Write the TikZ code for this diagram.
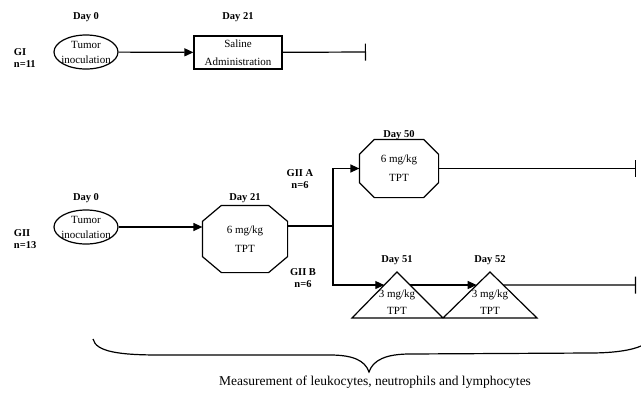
\documentclass[tikz,border=0pt]{standalone}
\usepackage{fontspec}
\setmainfont{Liberation Serif}
\usetikzlibrary{shapes.geometric,arrows.meta,calc}

% octagon round a node: node name, horizontal cut, vertical cut
\newcommand{\drawoct}[3]{%
  \draw ($(#1.north west)+(#2,0)$) -- ($(#1.north east)+(-#2,0)$)
     -- ($(#1.north east)+(0,#3)$) -- ($(#1.south east)+(0,-#3)$)
     -- ($(#1.south east)+(-#2,0)$) -- ($(#1.south west)+(#2,0)$)
     -- ($(#1.south west)+(0,-#3)$) -- ($(#1.north west)+(0,#3)$) -- cycle;}

\begin{document}
\begin{tikzpicture}[x=1pt,y=-1pt,line width=1.2pt,
    every node/.style={font=\fontsize{11}{13}\selectfont},
    lbl/.style={font=\fontsize{10.5}{12}\selectfont\bfseries},
    oval/.style={draw,ellipse,minimum width=64pt,minimum height=34pt,inner xsep=-3pt,inner ysep=0pt,align=center},
    octo/.style={rectangle,align=center,inner sep=0pt},
    arr/.style={-{Triangle[length=9pt,width=8pt]}},
    stop/.style={-{Bar[width=17pt,line width=1.2pt]}}]
        \useasboundingbox (0,0) rectangle (641,400);

        % Group GI
        \node[lbl,align=left,anchor=west] (gi) at (10,58) {GI\\n=11};
        \node[oval] (tum1) at (86,52) {Tumor\\[2pt]inoculation};
        \node[lbl] (d0a) at (86,17) {Day 0};
        \node[draw,minimum width=88pt,minimum height=33pt,inner sep=0pt,align=center] (sal) at (238,52.5) {Saline\\[5pt]Administration};
        \node[lbl] (d21a) at (238,17) {Day 21};
        \coordinate (end1) at (366,52);

        \draw[arr] (tum1) -- (sal);
        \draw[stop] (sal) -- (end1);

        % Group GII
        \node[lbl,align=left,anchor=west] (gii) at (10,239) {GII\\n=13};
        \node[oval] (tum2) at (86,227) {Tumor\\[2pt]inoculation};
        \node[lbl] (d0b) at (86,198) {Day 0};
        \node[octo,minimum width=84pt,minimum height=66pt] (tpt1) at (245,239) {6 mg/kg\\[6pt]TPT};
        \drawoct{tpt1}{19}{16}
        \node[lbl] (d21b) at (245,198) {Day 21};
        \coordinate (split) at (333,226);

        \draw[arr] (tum2.east) -- (tum2.east -| tpt1.west);
        \draw (tpt1.east |- split) -- (split);

        % Branch A
        \node[lbl,align=center] (gia) at (300,179) {GII A\\n=6};
        \node[octo,minimum width=78pt,minimum height=57pt] (tpt2) at (399,168.5) {6 mg/kg\\[6pt]TPT};
        \drawoct{tpt2}{15}{15}
        \node[lbl] (d50) at (399,135) {Day 50};
        \coordinate (end2) at (636,168.5);

        \draw[arr] (split) |- (tpt2.west);
        \draw[stop] (tpt2.east) -- (end2);

        % Branch B: the two triangles
        \coordinate (t1top) at (397,272);
        \coordinate (t1l) at (352,318);
        \coordinate (t1r) at (443,318);
        \coordinate (t2top) at (490,272);
        \coordinate (t2r) at (537,318);
        \draw (t1l) -- (t1top) -- (t1r) -- (t2top) -- (t2r) -- cycle;

        \coordinate (t1in) at ($(t1top)!0.283!(t1l)$);
        \coordinate (t1out) at ($(t1top)!0.283!(t1r)$);
        \coordinate (t2in) at ($(t2top)!0.283!(t1r)$);
        \coordinate (t2out) at ($(t2top)!0.283!(t2r)$);
        \coordinate (end3) at (636,285);

        \node[lbl,align=center] (gib) at (303,278) {GII B\\n=6};
        \node[lbl] (d51) at (397,260) {Day 51};
        \node[lbl] (d52) at (490,260) {Day 52};
        \node[align=center] (lo1) at (397,302) {3 mg/kg\\[4pt]TPT};
        \node[align=center] (lo2) at (490,302) {3 mg/kg\\[4pt]TPT};

        \draw[arr] (split) |- (t1in);
        \draw[arr] (t1out) -- (t2in);
        \draw[stop] (t2out) -- (end3);

        % Brace over the measurements
        \coordinate (bl) at (93,339);
        \coordinate (tip) at (369,372);
        \coordinate (br) at (641,346);
        \draw (bl) .. controls (96,352) and (120,355) .. (160,355)
            -- (330,355) .. controls (352,355) and (365,360) .. (tip)
            .. controls (373,360) and (386,354) .. (410,354)
            -- (590,353) .. controls (615,353) and (632,350) .. (br);
        \node[font=\fontsize{13.5}{15}\selectfont] (meas) at (375,382) {Measurement of leukocytes, neutrophils and lymphocytes};
\end{tikzpicture}
\end{document}
